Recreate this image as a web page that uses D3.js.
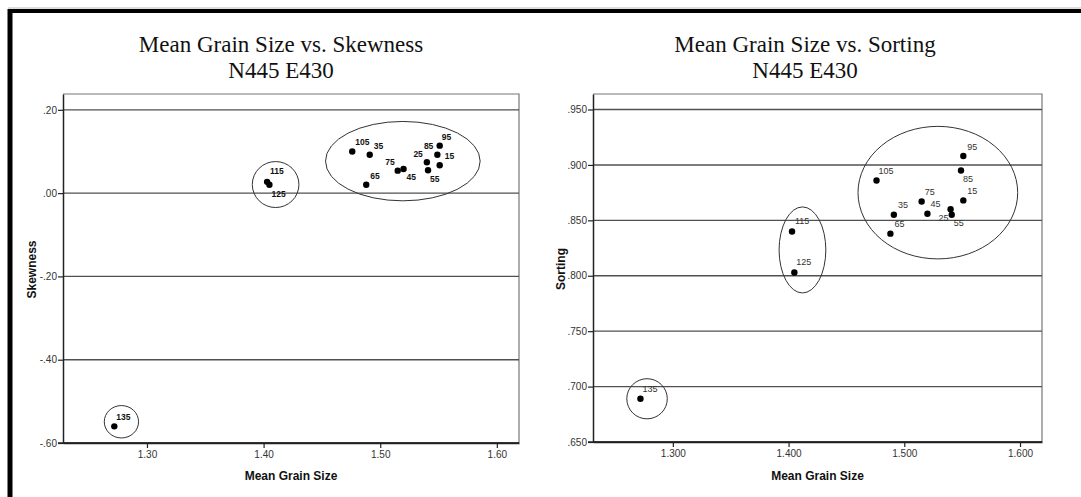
<!DOCTYPE html>
<html>
<head>
<meta charset="utf-8">
<script src="https://cdn.jsdelivr.net/npm/d3@7"></script>
<style>
  body { margin: 0; background: #fff; }
  svg { display: block; }
</style>
</head>
<body>
<svg id="chart" width="1081" height="497"></svg>
<script>
// Sample depths (cm) at unit N445 E430
const samples       = ["15", "25", "35", "45", "55", "65", "75", "85", "95", "105", "115", "125", "135"];
const meanGrainSize = [1.551, 1.540, 1.491, 1.520, 1.541, 1.488, 1.515, 1.549, 1.551, 1.476, 1.403, 1.405, 1.272];
const skewness      = [0.067, 0.074, 0.092, 0.058, 0.055, 0.020, 0.054, 0.092, 0.114, 0.100, 0.027, 0.020, -0.560];
const sorting       = [0.868, 0.860, 0.855, 0.856, 0.855, 0.838, 0.867, 0.895, 0.908, 0.886, 0.840, 0.803, 0.689];

// Axis ticks
const skewXTicks = [1.30, 1.40, 1.50, 1.60];
const skewYTicks = [-0.60, -0.40, -0.20, 0.00, 0.20];
const sortXTicks = [1.300, 1.400, 1.500, 1.600];
const sortYTicks = [0.650, 0.700, 0.750, 0.800, 0.850, 0.900, 0.950];

// Grouping ellipses (centre and semi-axes in data units)
const skewGroups = [
  { cx: 1.5194, cy: 0.0768, rx: 0.0663, ry: 0.0953 },
  { cx: 1.4103, cy: 0.0206, rx: 0.0200, ry: 0.0552 },
  { cx: 1.2781, cy: -0.549, rx: 0.0147, ry: 0.0389 }
];
const sortGroups = [
  { cx: 1.5290, cy: 0.8750, rx: 0.0690, ry: 0.0598 },
  { cx: 1.4120, cy: 0.8233, rx: 0.0202, ry: 0.0388 },
  { cx: 1.2777, cy: 0.6890, rx: 0.0175, ry: 0.0181 }
];

// Label placement around each point: [dx, dy, anchor]
const skewLabelPos = {
  "15": [5, -8, "start"], "25": [-4, -8, "end"], "35": [4, -8, "start"],
  "45": [3, 9, "start"], "55": [2, 10, "start"], "65": [4, -8, "start"],
  "75": [-3, -8, "end"], "85": [-4, -8, "end"], "95": [2, -8, "start"],
  "105": [3, -9, "start"], "115": [3, -10, "start"], "125": [2, 10, "start"],
  "135": [2, -9, "start"]
};
const sortLabelPos = {
  "15": [4, -9, "start"], "25": [-2, 9, "end"], "35": [4, -9, "start"],
  "45": [3, -9, "start"], "55": [2, 9, "start"], "65": [4, -9, "start"],
  "75": [3, -9, "start"], "85": [2, 9, "start"], "95": [4, -8, "start"],
  "105": [2, -9, "start"], "115": [3, -10, "start"], "125": [2, -10, "start"],
  "135": [2, -9, "start"]
};

const svg = d3.select("#chart");

// Page frame
svg.append("line").attr("x1", 8).attr("x2", 1081).attr("y1", 8).attr("y2", 8)
  .attr("stroke", "#bbb").attr("stroke-width", 1);
svg.append("line").attr("x1", 8).attr("x2", 1081).attr("y1", 11).attr("y2", 11)
  .attr("stroke", "#000").attr("stroke-width", 4);
svg.append("line").attr("x1", 10).attr("x2", 10).attr("y1", 9).attr("y2", 497)
  .attr("stroke", "#000").attr("stroke-width", 5);

// Tick format without the leading zero (".20", "-.40", ".950")
const stripZero = f => v => f(v).replace("\u2212", "-").replace(/^(-?)0\./, "$1.");

function drawPanel(cfg) {
  const g = svg.append("g");
  const x = d3.scaleLinear().domain(cfg.xDomain).range([cfg.left, cfg.right]);
  const y = d3.scaleLinear().domain(cfg.yDomain).range([cfg.bottom, cfg.top]);

  // Title
  const title = g.append("text")
    .attr("x", cfg.titleX).attr("text-anchor", "middle")
    .attr("font-family", "'Liberation Serif', 'Times New Roman', serif")
    .attr("font-size", 23).attr("fill", "#111");
  title.append("tspan").attr("x", cfg.titleX).attr("y", 52).text(cfg.title);
  title.append("tspan").attr("x", cfg.titleX).attr("y", 78).text("N445 E430");

  // Plot box (top / right)
  g.append("path")
    .attr("d", `M${cfg.left},${cfg.top}H${cfg.right}V${cfg.bottom}`)
    .attr("fill", "none").attr("stroke", "#777").attr("stroke-width", 1.2);

  // Horizontal gridlines
  g.append("g").selectAll("line").data(cfg.yTicks).join("line")
    .attr("x1", cfg.left).attr("x2", cfg.right)
    .attr("y1", d => y(d)).attr("y2", d => y(d))
    .attr("stroke", "#505050").attr("stroke-width", 1.4);

  // Axes
  const xAxis = g.append("g").attr("transform", `translate(0,${cfg.bottom})`)
    .call(d3.axisBottom(x).tickValues(cfg.xTicks).tickSize(5).tickPadding(3)
      .tickFormat(d3.format(cfg.xFmt)).tickSizeOuter(0));
  const yAxis = g.append("g").attr("transform", `translate(${cfg.left},0)`)
    .call(d3.axisLeft(y).tickValues(cfg.yTicks).tickSize(5).tickPadding(1)
      .tickFormat(stripZero(d3.format(cfg.yFmt))).tickSizeOuter(0));
  [xAxis, yAxis].forEach(a => {
    a.select(".domain").attr("stroke", "#222").attr("stroke-width", 1.5);
    a.selectAll(".tick line").attr("stroke", "#222").attr("stroke-width", 1.2);
    a.selectAll(".tick text").attr("fill", "#333")
      .attr("font-family", "'Liberation Sans', Arial, sans-serif").attr("font-size", 10);
  });
  // Full bottom axis line across the plot width
  g.append("line").attr("x1", cfg.left - 5).attr("x2", cfg.right)
    .attr("y1", cfg.bottom).attr("y2", cfg.bottom)
    .attr("stroke", "#222").attr("stroke-width", 1.5);

  // Axis titles
  g.append("text").attr("x", (cfg.left + cfg.right) / 2).attr("y", 480)
    .attr("text-anchor", "middle")
    .attr("font-family", "'Liberation Sans', Arial, sans-serif")
    .attr("font-size", 12).attr("font-weight", "bold").attr("fill", "#111")
    .text("Mean Grain Size");
  g.append("text")
    .attr("transform", `translate(${cfg.yTitleX},${(cfg.top + cfg.bottom) / 2 + 1}) rotate(-90)`)
    .attr("text-anchor", "middle")
    .attr("font-family", "'Liberation Sans', Arial, sans-serif")
    .attr("font-size", 12).attr("font-weight", "bold").attr("fill", "#111")
    .text(cfg.yTitle);

  // Grouping ellipses
  g.append("g").selectAll("ellipse").data(cfg.groups).join("ellipse")
    .attr("cx", d => x(d.cx)).attr("cy", d => y(d.cy))
    .attr("rx", d => x(d.cx + d.rx) - x(d.cx))
    .attr("ry", d => y(d.cy) - y(d.cy + d.ry))
    .attr("fill", "none").attr("stroke", "#333").attr("stroke-width", 1);

  // Points
  const pts = samples.map((s, i) => ({ s, xv: meanGrainSize[i], yv: cfg.values[i] }));
  g.append("g").selectAll("circle").data(pts).join("circle")
    .attr("cx", d => x(d.xv)).attr("cy", d => y(d.yv)).attr("r", 3.2).attr("fill", "#000");

  // Point labels
  g.append("g").selectAll("text").data(pts).join("text")
    .attr("x", d => x(d.xv) + cfg.labelPos[d.s][0])
    .attr("y", d => y(d.yv) + cfg.labelPos[d.s][1])
    .attr("text-anchor", d => cfg.labelPos[d.s][2])
    .attr("dominant-baseline", "middle")
    .attr("font-family", "'Liberation Sans', Arial, sans-serif")
    .attr("font-size", cfg.labelSize).attr("font-weight", cfg.labelWeight)
    .attr("fill", cfg.labelColor)
    .text(d => d.s);
}

drawPanel({
  title: "Mean Grain Size vs. Skewness", titleX: 281,
  left: 63, right: 519, top: 94, bottom: 443,
  xDomain: [1.228, 1.619], yDomain: [-0.60, 0.238],
  xTicks: skewXTicks, yTicks: skewYTicks, xFmt: ".2f", yFmt: ".2f",
  yTitle: "Skewness", yTitleX: 36,
  values: skewness, groups: skewGroups, labelPos: skewLabelPos,
  labelSize: 8.5, labelWeight: "bold", labelColor: "#111"
});

drawPanel({
  title: "Mean Grain Size vs. Sorting", titleX: 805,
  left: 593, right: 1042, top: 94, bottom: 442,
  xDomain: [1.231, 1.619], yDomain: [0.650, 0.964],
  xTicks: sortXTicks, yTicks: sortYTicks, xFmt: ".3f", yFmt: ".3f",
  yTitle: "Sorting", yTitleX: 565,
  values: sorting, groups: sortGroups, labelPos: sortLabelPos,
  labelSize: 9, labelWeight: "normal", labelColor: "#333"
});
</script>
</body>
</html>
